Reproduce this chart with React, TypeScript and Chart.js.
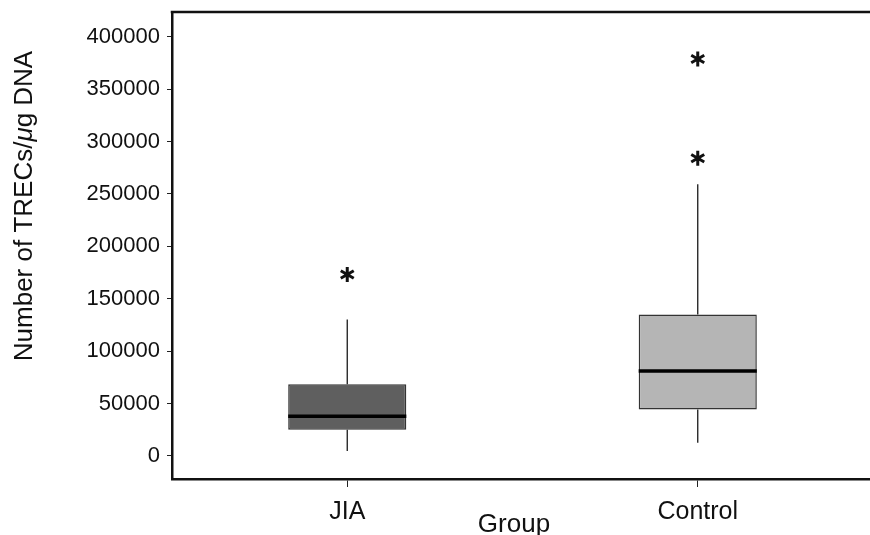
import React, { useEffect, useRef } from 'react';
import { Chart, registerables } from 'chart.js';

Chart.register(...registerables);

const categories = ['JIA', 'Control'];
const q1Values = [25000, 44200];
const q3Values = [68300, 135000];
const medianValues = [37800, 81000];
const whiskerLow = [4600, 12600];
const whiskerHigh = [130200, 259200];
const outlierValues = [[173200], [284100, 378700]];
const boxColors = ['#5f5f5f', '#b5b5b5'];
const yMin = -22000;
const yMax = 423600;
const yTickValues = [0, 50000, 100000, 150000, 200000, 250000, 300000, 350000, 400000];
const yTitleParts: [string, boolean][] = [
  ['Number of TRECs/', false],
  ['\u03bc', true],
  ['g DNA', false],
];
const xTitle = 'Group';

const FONT = "'Liberation Sans', Arial, Helvetica, sans-serif";
const CANVAS_W = 880;
const CANVAS_H = 550;

function drawAsterisk(ctx: CanvasRenderingContext2D, cx: number, cy: number, r: number) {
  ctx.save();
  ctx.strokeStyle = '#111';
  ctx.lineWidth = 3;
  ctx.lineCap = 'butt';
  ctx.beginPath();
  for (let k = 0; k < 3; k++) {
    const a = Math.PI / 2 + (k * Math.PI) / 3;
    ctx.moveTo(cx + r * Math.cos(a), cy + r * Math.sin(a));
    ctx.lineTo(cx - r * Math.cos(a), cy - r * Math.sin(a));
  }
  ctx.stroke();
  ctx.restore();
}

const boxPlugin = {
  id: 'boxExtras',
  afterDatasetsDraw(chart: any) {
    const { ctx, chartArea } = chart;
    const y = chart.scales.y;
    const meta = chart.getDatasetMeta(0);
    ctx.save();
    categories.forEach((_, i) => {
      const el = meta.data[i];
      const cx = el.x;
      const half = el.width / 2;
      ctx.strokeStyle = '#1a1a1a';
      ctx.lineWidth = 1.3;
      ctx.beginPath();
      ctx.moveTo(cx, y.getPixelForValue(q3Values[i]));
      ctx.lineTo(cx, y.getPixelForValue(whiskerHigh[i]));
      ctx.moveTo(cx, y.getPixelForValue(q1Values[i]));
      ctx.lineTo(cx, y.getPixelForValue(whiskerLow[i]));
      ctx.stroke();
      const ym = y.getPixelForValue(medianValues[i]);
      ctx.strokeStyle = '#000';
      ctx.lineWidth = 3.5;
      ctx.beginPath();
      ctx.moveTo(cx - half, ym);
      ctx.lineTo(cx + half, ym);
      ctx.stroke();
      outlierValues[i].forEach((v) => drawAsterisk(ctx, cx, y.getPixelForValue(v), 7.5));
    });
    // frame top & right
    ctx.strokeStyle = '#111';
    ctx.lineWidth = 2.5;
    ctx.beginPath();
    ctx.moveTo(chartArea.left - 1.25, chartArea.top);
    ctx.lineTo(chartArea.right, chartArea.top);
    ctx.lineTo(chartArea.right, chartArea.bottom);
    ctx.stroke();

    // y title
    ctx.fillStyle = '#111';
    ctx.textBaseline = 'middle';
    ctx.textAlign = 'left';
    const size = 26;
    let total = 0;
    const widths = yTitleParts.map(([t, it]) => {
      ctx.font = `${it ? 'italic ' : ''}${size}px ${FONT}`;
      const w = ctx.measureText(t).width;
      total += w;
      return w;
    });
    ctx.save();
    ctx.translate(25, 206);
    ctx.rotate(-Math.PI / 2);
    let px = -total / 2;
    yTitleParts.forEach(([t, it], k) => {
      ctx.font = `${it ? 'italic ' : ''}${size}px ${FONT}`;
      ctx.fillText(t, px, 0);
      px += widths[k];
    });
    ctx.restore();

    // x title
    ctx.font = `${size}px ${FONT}`;
    ctx.textAlign = 'center';
    ctx.textBaseline = 'alphabetic';
    ctx.fillText(xTitle, 514, 532);
    ctx.restore();
  },
};

export default function App() {
  const ref = useRef<HTMLCanvasElement>(null);
  useEffect(() => {
    if (!ref.current) return;
    Chart.defaults.font.family = FONT;
    const chart = new Chart(ref.current, {
      type: 'bar',
      data: {
        labels: categories,
        datasets: [
          {
            data: categories.map((_, i) => [q1Values[i], q3Values[i]]) as any,
            backgroundColor: boxColors,
            borderColor: '#333',
            borderWidth: 1.5,
            borderSkipped: false,
            barPercentage: 0.337,
            categoryPercentage: 1,
          },
        ],
      },
      options: {
        animation: false,
        responsive: true,
        maintainAspectRatio: false,
        layout: { padding: { top: 12, right: 7, left: 0, bottom: 0 } },
        plugins: { legend: { display: false }, tooltip: { enabled: false } },
        scales: {
          x: {
            offset: true,
            grid: {
              display: true,
              drawOnChartArea: false,
              drawTicks: true,
              tickLength: 8,
              offset: false,
              color: '#222',
              lineWidth: 1,
            },
            border: { display: true, color: '#111', width: 2.5 },
            ticks: { font: { family: FONT, size: 25 }, color: '#111', padding: 10 },
            afterFit: (s: any) => {
              s.height = CANVAS_H - 479;
              s.paddingLeft = 0;
              s.paddingRight = 0;
            },
          },
          y: {
            min: yMin,
            max: yMax,
            afterBuildTicks: (s: any) => {
              s.ticks = yTickValues.map((v) => ({ value: v }));
            },
            ticks: {
              font: { family: FONT, size: 22 },
              color: '#111',
              padding: 7,
              callback: (v: any) => String(v),
            },
            grid: { drawOnChartArea: false, drawTicks: true, tickLength: 5, color: '#222', lineWidth: 1 },
            border: { display: true, color: '#111', width: 2.5 },
            afterFit: (s: any) => {
              s.width = 172;
              s.paddingTop = 0;
              s.paddingBottom = 0;
            },
          },
        },
      },
      plugins: [boxPlugin],
    });
    return () => chart.destroy();
  }, []);

  return (
    <div
      style={{
        position: 'absolute',
        left: 0,
        top: 0,
        width: 870,
        height: 535,
        overflow: 'hidden',
        background: '#fff',
      }}
    >
      <div style={{ position: 'relative', width: CANVAS_W, height: CANVAS_H }}>
        <canvas ref={ref} />
      </div>
    </div>
  );
}
